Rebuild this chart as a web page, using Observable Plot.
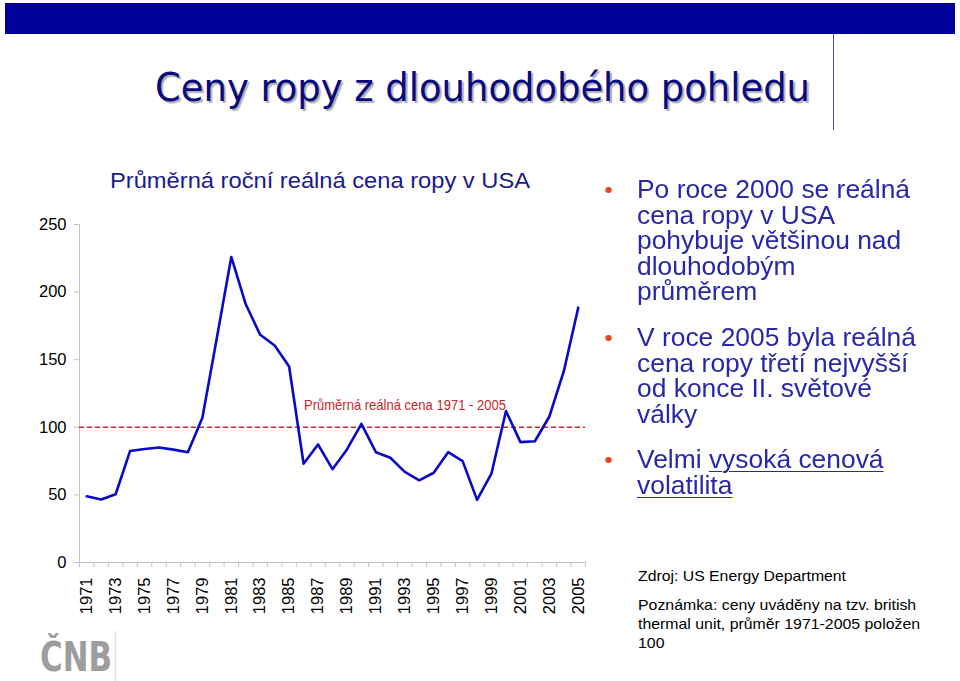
<!DOCTYPE html>
<html><head><meta charset="utf-8">
<script src="https://cdn.jsdelivr.net/npm/d3@7"></script>
<script src="https://cdn.jsdelivr.net/npm/@observablehq/plot@0.6"></script>
<style>
body{margin:0;background:#fff;}
#page{position:relative;width:960px;height:681px;overflow:hidden;background:#fff;font-family:"Liberation Sans",Arial,sans-serif;}
.abs{position:absolute;white-space:nowrap;}
#title{font-family:"DejaVu Sans Condensed","DejaVu Sans",sans-serif;font-size:39px;line-height:39px;color:#0a0a80;text-shadow:2px 2px 1px #b0b0b0;}
#subtitle{font-size:22px;line-height:22px;color:#1a1a8c;}
#bullets{left:637px;top:177px;font-size:25px;line-height:25.6px;color:#2828a8;}
#bullets p{margin:0 0 20px 0;position:relative;}
#bullets p .dot{position:absolute;left:-30px;top:10px;width:6px;height:6px;border-radius:50%;background:#e8401c;}
u{text-decoration-thickness:1px;text-underline-offset:3px;}
</style></head><body><div id="page">
<div class="abs" style="left:5px;top:3px;width:950px;height:31px;background:#000099"></div>
<div class="abs" style="left:833px;top:34px;width:1px;height:96px;background:#4a4aa0"></div>
<div id="title" class="abs" style="left:155px;top:68px;">Ceny ropy z dlouhodobého pohledu</div>
<div id="subtitle" class="abs" style="left:110px;top:170px;">Průměrná roční reálná cena ropy v USA</div>
<div id="chart" class="abs" style="left:0;top:200px;"></div>
<div id="bullets" class="abs">
<p><span class="dot"></span>Po roce 2000 se reálná<br>cena ropy v USA<br>pohybuje většinou nad<br>dlouhodobým<br>průměrem</p>
<p><span class="dot"></span>V roce 2005 byla reálná<br>cena ropy třetí nejvyšší<br>od konce II. světové<br>války</p>
<p><span class="dot"></span>Velmi <u>vysoká cenová</u><br><u>volatilita</u></p>
</div>
<div id="notes1" class="abs" style="left:638px;top:567px;font-size:15px;line-height:17px;">Zdroj: US Energy Department</div>
<div id="notes2" class="abs" style="left:638px;top:595px;font-size:15px;line-height:19px;">Poznámka: ceny uváděny na tzv. british<br>thermal unit, průměr 1971-2005 položen<br>100</div>
<svg class="abs" style="left:36px;top:626px;" width="90" height="55">
<text x="4" y="45" font-family="DejaVu Sans Condensed, DejaVu Sans, sans-serif" font-weight="bold" font-size="40" fill="#9d9d9d" textLength="72" lengthAdjust="spacingAndGlyphs">ČNB</text>
<line x1="79.5" y1="5" x2="79.5" y2="55" stroke="#e2e2e2" stroke-width="1.5"/>
</svg>
</div>
<script>
// ---- data ----
const years = [1971,1972,1973,1974,1975,1976,1977,1978,1979,1980,1981,1982,1983,1984,1985,1986,1987,1988,1989,1990,1991,1992,1993,1994,1995,1996,1997,1998,1999,2000,2001,2002,2003,2004,2005];
const prices = [49,46.6,50.5,82.5,84,85,83.5,81.6,107,166,226,191,168.4,160.5,145,73,87.3,69,83.6,102.5,81.6,77.5,67,60.8,66.4,81.6,75,46.3,66,112,89,89.7,108,141.5,188.5];
const yTickValues = [0,50,100,150,200,250];
const xLabelYears = years.filter((y,i)=>i%2===0);
const averageLevel = 100;
const averageLabel = "Průměrná reálná cena 1971 - 2005";
const averageLabelYear = 2000;

const data = years.map((year,i)=>({year, price: prices[i]}));
const boundaries = years.map(y=>y-0.5).concat([years[years.length-1]+0.5]);
const x0 = years[0]-0.5, x1 = years[years.length-1]+0.5;

const chart = Plot.plot({
  width: 600, height: 430,
  marginLeft: 79, marginRight: 15, marginTop: 24, marginBottom: 68,
  style: {fontFamily:"Liberation Sans, Arial, sans-serif", fontSize:"15px", color:"#000", background:"transparent", overflow:"visible"},
  x: {domain:[x0, x1]},
  y: {domain:[0,250]},
  marks: [
    Plot.ruleX([x0], {y1:0, y2:250, stroke:"#c4c4c4"}),
    Plot.ruleY([0], {stroke:"#c4c4c4"}),
    Plot.axisY({ticks:yTickValues, tickSize:5, tickPadding:8, stroke:"#c4c4c4", fontSize:16.5, label:null}),
    Plot.axisX({ticks:boundaries, tickSize:5, tickFormat:()=>"", stroke:"#c4c4c4", label:null}),
    Plot.axisX({ticks:xLabelYears, tickSize:0, tickPadding:15, tickRotate:-90, tickFormat:d=>String(d), fontSize:16.5, label:null}),
    Plot.ruleY([averageLevel], {x1:x0, x2:x1, stroke:"#c8282d", strokeDasharray:"5,3", strokeWidth:1.5}),
    Plot.line(data, {x:"year", y:"price", stroke:"#0a0ac6", strokeWidth:2.6}),
    Plot.text([{year:averageLabelYear, v:averageLevel, t:averageLabel}], {x:"year", y:"v", text:"t", textAnchor:"end", dy:-22, fill:"#c8282d", fontSize:15})
  ]
});
document.getElementById("chart").appendChild(chart);
d3.select(chart).selectAll("text").filter(function(){ return this.textContent === averageLabel; })
  .attr("textLength", 202).attr("lengthAdjust", "spacingAndGlyphs");

function fit(el, w){
  const r = el.getBoundingClientRect().width;
  el.style.transformOrigin = "left top";
  el.style.transform = `scaleX(${w/r})`;
}
fit(document.getElementById("title"), 655);
fit(document.getElementById("subtitle"), 420);
const b = document.getElementById("bullets");
const probe = document.createElement("span");
probe.textContent = "Po roce 2000 se reálná";
probe.style.cssText = "position:absolute;visibility:hidden;white-space:nowrap;font-size:25px;font-family:'Liberation Sans'";
document.body.appendChild(probe);
const s = 273/probe.getBoundingClientRect().width;
probe.remove();
b.style.transformOrigin = "left top";
b.style.transform = `scaleX(${s})`;
fit(document.getElementById("notes1"), 208);
const n2 = document.getElementById("notes2");
n2.style.transformOrigin="left top"; n2.style.transform="scaleX(1.057)";
</script>
</body></html>
